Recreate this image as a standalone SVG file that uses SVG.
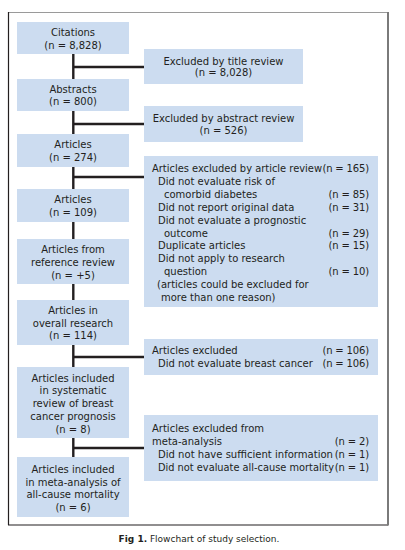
<svg xmlns="http://www.w3.org/2000/svg" width="405" height="550" viewBox="0 0 405 550">
<style>
.box{fill:#ccdcf0}
text{font-family:"DejaVu Sans",Verdana,sans-serif;font-size:10px;fill:#231f20}
.c{text-anchor:middle}
.r{text-anchor:end;letter-spacing:-0.15px}
.conn{stroke:#231f20;stroke-width:2.4;fill:none}
</style>
<rect width="405" height="550" fill="#ffffff"/>
<g id="frame">
<line x1="8.5" y1="12.5" x2="388" y2="12.5" stroke="#9a9a9a" stroke-width="1"/>
<line x1="8.5" y1="12" x2="8.5" y2="525" stroke="#231f20" stroke-width="1.2"/>
<line x1="8" y1="525" x2="388" y2="525" stroke="#231f20" stroke-width="1.2"/>
<line x1="388" y1="12" x2="388" y2="525.5" stroke="#7a7a7a" stroke-width="2"/>
</g>
<g id="connectors">
<path class="conn" d="M73.3 54V79M73.3 111V134M73.3 167V189M73.3 222V239M73.3 284V300M73.3 345V367M73.3 438V457"/>
<path class="conn" d="M73.3 67H144M73.3 124H144M73.3 177H144M73.3 357H144M73.3 448H144"/>
</g>
<g id="citations">
<rect class="box" x="17" y="22" width="112" height="32"/>
<text class="c" x="73" y="36">Citations</text>
<text class="c" x="73" y="49">(n = 8,828)</text>
</g>
<g id="excl-title">
<rect class="box" x="144" y="49" width="159" height="35"/>
<text class="c" x="223.5" y="64.5">Excluded by title review</text>
<text class="c" x="223.5" y="76">(n = 8,028)</text>
</g>
<g id="abstracts">
<rect class="box" x="17" y="79" width="112" height="32"/>
<text class="c" x="73" y="92.5">Abstracts</text>
<text class="c" x="73" y="104.5">(n = 800)</text>
</g>
<g id="excl-abstract">
<rect class="box" x="144" y="106" width="159" height="36"/>
<text class="c" x="223.5" y="121.5">Excluded by abstract review</text>
<text class="c" x="223.5" y="134">(n = 526)</text>
</g>
<g id="articles-274">
<rect class="box" x="17" y="134" width="112" height="33"/>
<text class="c" x="73" y="147.5">Articles</text>
<text class="c" x="73" y="160.5">(n = 274)</text>
</g>
<g id="excl-article">
<rect class="box" x="144" y="156" width="234" height="151"/>
<text x="152" y="171.5" textLength="170" lengthAdjust="spacingAndGlyphs">Articles excluded by article review</text>
<text class="r" x="369" y="171.5">(n = 165)</text>
<text x="158" y="184.5">Did not evaluate risk of</text>
<text x="164" y="197.5">comorbid diabetes</text>
<text class="r" x="369" y="197.5">(n = 85)</text>
<text x="158" y="210.5">Did not report original data</text>
<text class="r" x="369" y="210.5">(n = 31)</text>
<text x="158" y="223.5">Did not evaluate a prognostic</text>
<text x="164" y="236.5">outcome</text>
<text class="r" x="369" y="236.5">(n = 29)</text>
<text x="158" y="248.5">Duplicate articles</text>
<text class="r" x="369" y="248.5">(n = 15)</text>
<text x="158" y="261.5">Did not apply to research</text>
<text x="164" y="274.5">question</text>
<text class="r" x="369" y="274.5">(n = 10)</text>
<text x="157" y="287.5">(articles could be excluded for</text>
<text x="161" y="300.5">more than one reason)</text>
</g>
<g id="articles-109">
<rect class="box" x="17" y="189" width="112" height="33"/>
<text class="c" x="73" y="202.5">Articles</text>
<text class="c" x="73" y="215.5">(n = 109)</text>
</g>
<g id="reference-review">
<rect class="box" x="17" y="239" width="112" height="45"/>
<text class="c" x="73" y="252.5">Articles from</text>
<text class="c" x="73" y="265.5">reference review</text>
<text class="c" x="73" y="278.5">(n = +5)</text>
</g>
<g id="overall-research">
<rect class="box" x="17" y="300" width="112" height="45"/>
<text class="c" x="73" y="313.5">Articles in</text>
<text class="c" x="73" y="326.5">overall research</text>
<text class="c" x="73" y="338.5">(n = 114)</text>
</g>
<g id="excl-breast">
<rect class="box" x="144" y="339" width="234" height="36"/>
<text x="152" y="353.5">Articles excluded</text>
<text class="r" x="369" y="353.5">(n = 106)</text>
<text x="158" y="366.5">Did not evaluate breast cancer</text>
<text class="r" x="369" y="366.5">(n = 106)</text>
</g>
<g id="systematic-review">
<rect class="box" x="17" y="367" width="112" height="71"/>
<text class="c" x="73" y="381.5">Articles included</text>
<text class="c" x="73" y="394">in systematic</text>
<text class="c" x="73" y="406.5">review of breast</text>
<text class="c" x="73" y="419.5">cancer prognosis</text>
<text class="c" x="73" y="432.5">(n = 8)</text>
</g>
<g id="excl-meta">
<rect class="box" x="144" y="415" width="234" height="66"/>
<text x="152" y="431.5">Articles excluded from</text>
<text x="152" y="444.5">meta-analysis</text>
<text class="r" x="369" y="444.5">(n = 2)</text>
<text x="158" y="457.5" textLength="175" lengthAdjust="spacingAndGlyphs">Did not have sufficient information</text>
<text class="r" x="369" y="457.5">(n = 1)</text>
<text x="158" y="470.5" textLength="176" lengthAdjust="spacingAndGlyphs">Did not evaluate all-cause mortality</text>
<text class="r" x="369" y="470.5">(n = 1)</text>
</g>
<g id="meta-analysis">
<rect class="box" x="17" y="457" width="112" height="60"/>
<text class="c" x="73" y="472.5">Articles included</text>
<text class="c" x="73" y="485.5">in meta-analysis of</text>
<text class="c" x="73" y="497.5">all-cause mortality</text>
<text class="c" x="73" y="510.5">(n = 6)</text>
</g>
<g id="caption">
<text class="c" x="199" y="542" style="font-size:9px"><tspan font-weight="bold">Fig 1.</tspan> Flowchart of study selection.</text>
</g>
</svg>
